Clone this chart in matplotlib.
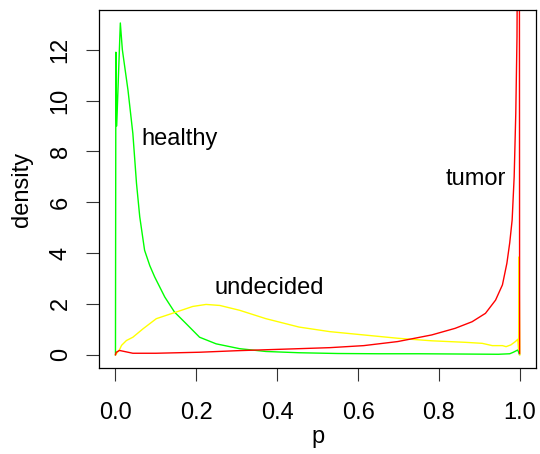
import matplotlib
matplotlib.use('Agg')
import matplotlib.pyplot as plt

plt.rcParams['font.family'] = ['Liberation Sans', 'DejaVu Sans']

# density estimates
p_healthy = [0, 0.001, 0.003, 0.012, 0.017, 0.031, 0.043, 0.052, 0.06, 0.072, 0.085,
             0.097, 0.122, 0.146, 0.175, 0.208, 0.249, 0.307, 0.372, 0.454, 0.55,
             0.65, 0.75, 0.85, 0.947, 0.975, 0.984, 0.995, 0.999]
d_healthy = [0, 11.9, 9.0, 13.05, 12.0, 10.4, 8.7, 6.74, 5.43, 4.11, 3.5,
             3.06, 2.27, 1.68, 1.22, 0.69, 0.43, 0.24, 0.13, 0.08, 0.05,
             0.04, 0.04, 0.03, 0.02, 0.04, 0.1, 0.19, 0.01]

p_undecided = [0, 0.005, 0.01, 0.015, 0.027, 0.043, 0.068, 0.101, 0.15, 0.191, 0.224,
               0.258, 0.307, 0.372, 0.454, 0.53, 0.614, 0.698, 0.782, 0.865, 0.907,
               0.932, 0.957, 0.966, 0.978, 0.989, 0.995, 0.997, 0.998, 1.0]
d_undecided = [0, 0.1, 0.2, 0.37, 0.56, 0.69, 1.02, 1.42, 1.68, 1.9, 1.98,
               1.94, 1.75, 1.42, 1.09, 0.91, 0.78, 0.65, 0.55, 0.49, 0.45,
               0.36, 0.36, 0.32, 0.39, 0.52, 0.61, 0.2, 3.85, 0.0]

p_tumor = [0, 0.002, 0.01, 0.043, 0.1, 0.208, 0.3, 0.454, 0.53, 0.614, 0.698, 0.782,
           0.84, 0.882, 0.915, 0.94, 0.957, 0.968, 0.975, 0.981, 0.986, 0.99,
           0.993, 0.9985, 0.9995]
d_tumor = [0, 0.1, 0.17, 0.06, 0.06, 0.1, 0.16, 0.24, 0.28, 0.36, 0.52, 0.78,
           1.04, 1.3, 1.63, 2.15, 2.75, 3.6, 4.4, 5.3, 7.0, 9.5,
           12.5, 30.0, 0.05]

xticks = [0, 0.2, 0.4, 0.6, 0.8, 1.0]
xlabels = ['0.0', '0.2', '0.4', '0.6', '0.8', '1.0']
yticks = [0, 2, 4, 6, 8, 10, 12]

fig = plt.figure(figsize=(5.4, 4.54), dpi=100)
ax = fig.add_axes([99.3 / 540, 86 / 454, (536 - 99.3) / 540, (368 - 10) / 454])

ax.plot(p_healthy, d_healthy, color='#00ff00', lw=1.0)
ax.plot(p_undecided, d_undecided, color='#ffff00', lw=1.0)
ax.plot(p_tumor, d_tumor, color='#ff0000', lw=1.0)

ax.text(0.159, 8.25, 'healthy', ha='center', va='baseline', fontsize=17)
ax.text(0.381, 2.38, 'undecided', ha='center', va='baseline', fontsize=17)
ax.text(0.891, 6.68, 'tumor', ha='center', va='baseline', fontsize=17)

ax.set_xlim(-0.04, 1.04)
ax.set_ylim(-0.52, 13.56)
ax.set_xticks(xticks)
ax.set_xticklabels(xlabels)
ax.set_yticks(yticks)
ax.set_yticklabels([str(v) for v in yticks], rotation=90, va='center')

ax.tick_params(axis='both', length=9.4, width=0.8, labelsize=17, color='#333333')
ax.tick_params(axis='x', pad=15)
ax.tick_params(axis='y', pad=10.5)
for s in ax.spines.values():
    s.set_linewidth(0.9)

ax.set_xlabel('p', fontsize=17)
ax.set_ylabel('density', fontsize=17)
ax.xaxis.set_label_coords(0.5, -0.1615)
ax.yaxis.set_label_coords(-0.1518, 0.5)

fig.savefig('out.png', dpi=100)
